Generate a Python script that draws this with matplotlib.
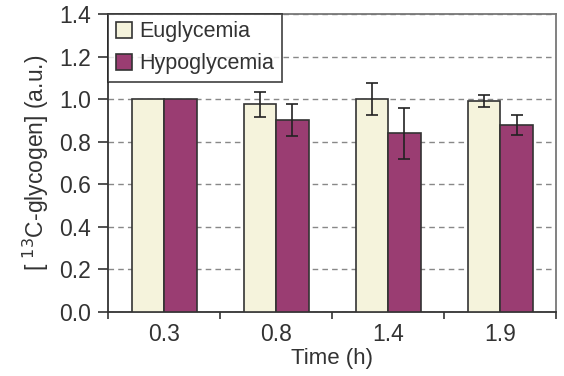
import matplotlib
matplotlib.use("Agg")
import matplotlib.pyplot as plt
import numpy as np

plt.rcParams['font.family'] = ['Liberation Sans', 'DejaVu Sans']

categories = ["0.3", "0.8", "1.4", "1.9"]
eu_vals = [1.0, 0.975, 1.0, 0.99]
eu_err = [0.0, 0.06, 0.075, 0.028]
hypo_vals = [1.0, 0.90, 0.84, 0.878]
hypo_err = [0.0, 0.075, 0.12, 0.047]
yticks = [0.0, 0.2, 0.4, 0.6, 0.8, 1.0, 1.2, 1.4]

FS = 16.5
fig = plt.figure(figsize=(5.64, 3.76), dpi=100)
ax = fig.add_axes([0.1915, 0.170, 0.795, 0.793])

x = np.arange(len(categories))
w = 0.29
ec = '#333333'
ax.bar(x - w/2, eu_vals, w, color='#F5F3DC', edgecolor=ec, linewidth=1.2, zorder=3, label='Euglycemia')
ax.bar(x + w/2, hypo_vals, w, color='#9A3D72', edgecolor=ec, linewidth=1.2, zorder=3, label='Hypoglycemia')
ax.errorbar(x[1:] - w/2, eu_vals[1:], yerr=eu_err[1:], fmt='none', ecolor='#222222', elinewidth=1.2, capsize=4, capthick=1.2, zorder=4)
ax.errorbar(x[1:] + w/2, hypo_vals[1:], yerr=hypo_err[1:], fmt='none', ecolor='#222222', elinewidth=1.2, capsize=4, capthick=1.2, zorder=4)

ax.set_xlim(-0.5, len(categories) - 0.5)
ax.set_ylim(0, 1.4)
ax.set_yticks(yticks)
ax.set_yticklabels([f"{v:.1f}" for v in yticks])
ax.yaxis.grid(True, linestyle=(0, (4, 3)), color='#888888', linewidth=1.0, zorder=0)

ax.set_xticks(x)
ax.set_xticklabels(categories)
ax.tick_params(axis='x', which='major', length=0, labelsize=FS, pad=8, colors='#333333')
ax.set_xticks(np.arange(-0.5, len(categories) + 0.5, 1), minor=True)
ax.tick_params(axis='x', which='minor', length=5, width=1.2, color='#333333', direction='out')
ax.tick_params(axis='y', length=7, width=1.2, labelsize=FS, colors='#333333', direction='out', pad=5)

for s in ['left', 'bottom']:
    ax.spines[s].set_color('#333333')
    ax.spines[s].set_linewidth(1.3)
for s in ['top', 'right']:
    ax.spines[s].set_color('#777777')
    ax.spines[s].set_linewidth(1.3)

ax.set_xlabel('Time (h)', fontsize=16, color='#333333', labelpad=1)
ax.set_ylabel(r'[ $^{13}$C-glycogen] (a.u.)', fontsize=FS, color='#333333', labelpad=6)

leg = ax.legend(loc='upper left', bbox_to_anchor=(0, 1), borderaxespad=0, fontsize=15.5,
                frameon=True, fancybox=False, handlelength=0.75, handleheight=0.75,
                handletextpad=0.35, borderpad=0.35, labelspacing=0.5)
leg.get_frame().set_edgecolor('#222222')
leg.get_frame().set_linewidth(1.3)
for t in leg.get_texts():
    t.set_color('#333333')

fig.savefig('out.png', dpi=100)
